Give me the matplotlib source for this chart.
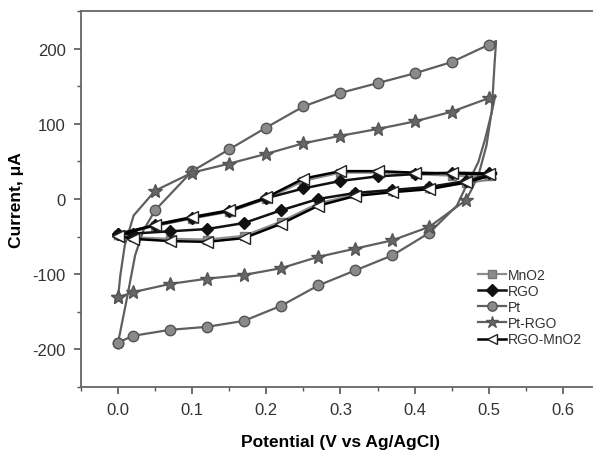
import matplotlib
matplotlib.use('Agg')
import matplotlib.pyplot as plt
from matplotlib.ticker import MultipleLocator

plt.rcParams['font.family'] = ['Liberation Sans', 'DejaVu Sans']
plt.rcParams['axes.unicode_minus'] = False

# Each loop: forward sweep from 0.0 up to the vertex, then reverse sweep back to 0.0
# MnO2
mno2_x = [0.0, 0.02, 0.07, 0.12, 0.17, 0.22, 0.27, 0.32, 0.37, 0.42, 0.47, 0.51,
          0.50, 0.45, 0.40, 0.35, 0.30, 0.25, 0.20, 0.15, 0.10, 0.05, 0.0]
mno2_y = [-48, -51, -53, -54, -49, -30, -6, 6, 11, 15, 21, 27,
          30, 31, 33, 35, 35, 24, 0, -17, -26, -36, -48]

# RGO
rgo_x = [0.0, 0.02, 0.07, 0.12, 0.17, 0.22, 0.27, 0.32, 0.37, 0.42, 0.47, 0.51,
         0.50, 0.45, 0.40, 0.35, 0.30, 0.25, 0.20, 0.15, 0.10, 0.05, 0.0]
rgo_y = [-46, -46, -43, -40, -32, -15, 0, 8, 12, 16, 24, 35,
         34, 35, 33, 30, 24, 14, 1, -16, -25, -35, -46]

# Pt (steep turning points read between markers)
pt_x = [0.0, 0.02, 0.07, 0.12, 0.17, 0.22, 0.27, 0.32, 0.37, 0.42,
        0.457, 0.47, 0.479, 0.486, 0.495, 0.504, 0.508, 0.51,
        0.50, 0.45, 0.40, 0.35, 0.30, 0.25, 0.20, 0.15, 0.10, 0.05,
        0.034, 0.023, 0.012, 0.0]
pt_y = [-191, -182, -174, -170, -162, -142, -115, -95, -75, -45,
        -9, 18, 35, 49, 79, 115, 181, 210,
        205, 182, 167, 154, 141, 123, 95, 66, 37, -15,
        -42, -75, -132, -191]
pt_marked = [0, 1, 2, 3, 4, 5, 6, 7, 8, 9,
             18, 19, 20, 21, 22, 23, 24, 25, 26, 27, 31]

# Pt-RGO
ptrgo_x = [0.0, 0.02, 0.07, 0.12, 0.17, 0.22, 0.27, 0.32, 0.37, 0.42, 0.47,
           0.486, 0.497, 0.503, 0.509,
           0.50, 0.45, 0.40, 0.35, 0.30, 0.25, 0.20, 0.15, 0.10, 0.05,
           0.021, 0.009, 0.003, 0.0]
ptrgo_y = [-131, -124, -113, -106, -101, -92, -77, -66, -55, -37, -1,
           31, 71, 110, 138,
           134, 116, 103, 93, 84, 74, 60, 47, 35, 11,
           -22, -62, -102, -131]
ptrgo_marked = [0, 1, 2, 3, 4, 5, 6, 7, 8, 9, 10,
                15, 16, 17, 18, 19, 20, 21, 22, 23, 24, 28]

# RGO-MnO2
rgomno2_x = [0.0, 0.02, 0.07, 0.12, 0.17, 0.22, 0.27, 0.32, 0.37, 0.42, 0.47, 0.51,
             0.50, 0.45, 0.40, 0.35, 0.30, 0.25, 0.20, 0.15, 0.10, 0.05, 0.0]
rgomno2_y = [-49, -53, -56, -57, -52, -33, -9, 4, 9, 13, 22, 33,
             33, 34, 35, 37, 37, 27, 2, -15, -24, -34, -49]
rgomno2_marked = [0, 1, 2, 3, 4, 5, 6, 7, 8, 9, 10,
                  12, 13, 14, 15, 16, 17, 18, 19, 20, 21, 22]

fig = plt.figure(figsize=(5.93, 4.52), dpi=100)
ax = fig.add_axes([0.1366, 0.1416, 0.875, 0.832])

ax.plot(mno2_x, mno2_y, color='#8c8c8c', lw=1.6, marker='s', ms=6,
        mfc='#8c8c8c', mec='#777777', markevery=rgomno2_marked, label='MnO2', zorder=2)
ax.plot(rgo_x, rgo_y, color='#111111', lw=1.8, marker='D', ms=6.5,
        mfc='#111111', mec='#111111', markevery=rgomno2_marked, label='RGO', zorder=3)
ax.plot(pt_x, pt_y, color='#5f5f5f', lw=1.6, marker='o', ms=7.5,
        mfc='#8a8a8a', mec='#555555', markevery=pt_marked, label='Pt', zorder=2)
ax.plot(ptrgo_x, ptrgo_y, color='#5f5f5f', lw=1.6, marker='*', ms=10,
        mfc='#666666', mec='#555555', markevery=ptrgo_marked, label='Pt-RGO', zorder=2)
ax.plot(rgomno2_x, rgomno2_y, color='#000000', lw=1.8, marker='<', ms=8,
        mfc='white', mec='#222222', mew=1.0, markevery=rgomno2_marked,
        label='RGO-MnO2', zorder=4)

ax.set_xlim(-0.05, 0.65)
ax.set_ylim(-250, 250)
ax.xaxis.set_major_locator(MultipleLocator(0.1))
ax.xaxis.set_minor_locator(MultipleLocator(0.05))
ax.yaxis.set_major_locator(MultipleLocator(100))
ax.yaxis.set_minor_locator(MultipleLocator(50))
ax.set_xticks([0.0, 0.1, 0.2, 0.3, 0.4, 0.5, 0.6])
ax.set_xticklabels(['0.0', '0.1', '0.2', '0.3', '0.4', '0.5', '0.6'])

ax.tick_params(axis='both', which='major', direction='out', length=5, width=1.2,
               labelsize=12, colors='#555555', labelcolor='#333333', pad=6)
ax.tick_params(axis='both', which='minor', direction='out', length=3, width=1.0,
               colors='#555555')
for s in ax.spines.values():
    s.set_color('#666666')
    s.set_linewidth(1.3)

ax.set_xlabel('Potential (V vs Ag/AgCl)', fontsize=12.5, fontweight='bold', labelpad=12)
ax.set_ylabel('Current, μA', fontsize=12.5, fontweight='bold', labelpad=6)

ax.legend(loc='upper left', bbox_to_anchor=(0.795, 0.42), bbox_transform=fig.transFigure,
          frameon=False, fontsize=10, handlelength=2.0, handletextpad=0.1,
          labelspacing=0.15, borderpad=0, markerscale=0.9, labelcolor='#333333')

plt.savefig('out.png', dpi=100)
plt.close()
